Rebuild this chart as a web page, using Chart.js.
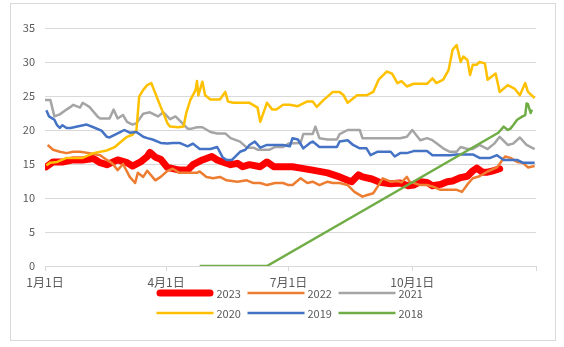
<!DOCTYPE html>
<html>
<head>
<meta charset="utf-8">
<script src="https://cdn.jsdelivr.net/npm/chart.js@4/dist/chart.umd.min.js"></script>
<style>
  html, body { margin: 0; padding: 0; background: #fff; }
  #frame { position: absolute; left: 10px; top: 3px; width: 544px; height: 336px; border: 1px solid #d9d9d9; background: #fff; }
  canvas { display: block; }
</style>
</head>
<body>
<div id="frame"><canvas id="c" width="544" height="336"></canvas></div>
<script>
// Series names, colours and line widths
const seriesNames  = ['2023', '2022', '2021', '2020', '2019', '2018'];
const seriesColors = ['#FF0000', '#ED7D31', '#A5A5A5', '#FFC000', '#4472C4', '#70AD47'];
const seriesWidths = [7, 2.5, 2.5, 2.5, 2.5, 2.5];

// X axis: day of year, ticks at the start of each quarter
const tickDays   = [0, 90, 181, 273, 365];
const tickLabels = ['1月1日', '4月1日', '7月1日', '10月1日', ''];

// Y axis range
const yMin = 0, yMax = 35, yStep = 5;

// 2023
const days2023 = [1,6,13,21,28,36,41,46,54,61,65,71,76,78,82,86,91,100,106,110,117,124,128,132,138,143,147,152,160,165,170,177,184,190,199,210,219,225,228,233,236,243,249,257,264,270,274,279,284,288,294,299,303,309,314,318,321,325,329,333,338];
const vals2023 = [14.6,15.3,15.3,15.6,15.6,15.8,15.2,14.9,15.6,15.2,14.7,15.3,16.1,16.7,16.0,15.7,14.5,14.1,14.1,14.9,15.6,16.1,15.6,15.3,14.9,15.1,14.6,14.9,14.6,15.3,14.6,14.6,14.6,14.4,14.1,13.7,13.1,12.6,12.4,13.4,13.1,12.8,12.3,12.1,12.2,11.8,11.9,12.4,12.3,11.8,12.0,12.4,12.5,13.0,13.2,14.0,14.4,13.8,13.8,14.0,14.3];

// 2022
const days2022 = [2,6,11,16,21,26,33,41,46,50,54,58,63,67,69,73,76,82,86,91,95,100,106,113,115,120,125,130,135,143,150,155,160,165,171,177,181,184,190,195,199,204,210,214,219,225,230,236,239,244,248,251,257,262,265,269,271,279,284,288,294,301,306,310,314,318,323,329,336,340,342,346,351,355,359,364];
const vals2022 = [17.8,17.1,16.8,16.6,16.8,16.8,16.6,16.3,15.6,15.1,14.1,15.0,13.1,12.2,13.7,13.1,14.0,12.6,13.1,14.0,14.3,13.7,13.7,13.7,13.9,13.1,12.9,13.1,12.6,12.4,12.6,12.2,12.2,11.9,12.2,12.2,11.9,11.9,12.9,12.2,12.4,11.9,12.4,12.2,12.2,11.9,10.9,10.2,10.4,10.7,11.9,12.9,12.4,12.5,12.3,13.1,12.4,11.9,11.9,11.7,11.2,11.2,11.2,10.9,12.0,12.9,13.2,13.9,14.5,15.6,16.1,15.9,15.3,15.2,14.5,14.7];

// 2021
const days2021 = [0,4,7,11,16,19,21,26,28,33,39,41,48,51,54,58,61,65,68,73,78,84,88,93,97,102,106,109,113,117,123,128,134,138,145,150,155,158,167,171,177,181,190,192,199,201,204,210,217,219,225,234,236,242,249,257,264,269,273,279,284,288,296,301,306,309,314,318,323,329,334,338,344,348,353,358,364];
const vals2021 = [24.4,24.4,22.0,22.3,23.0,23.4,23.7,23.3,24.0,23.4,22.0,21.7,21.7,23.0,21.7,22.2,21.2,20.8,21.0,22.4,22.6,22.0,22.6,21.6,22.0,21.0,20.2,20.2,20.4,20.4,19.7,19.5,19.5,18.8,18.3,17.4,17.4,17.1,17.1,17.5,17.5,18.0,18.1,19.4,19.4,20.5,18.8,18.6,18.6,19.4,20.0,20.0,18.8,18.8,18.8,18.8,18.8,19.0,20.0,18.5,18.8,18.5,17.3,16.8,16.8,17.5,17.2,17.2,17.8,17.2,18.0,19.0,17.8,18.0,18.9,17.8,17.2];

// 2020
const days2020 = [1,4,9,16,28,36,46,52,56,61,65,68,70,73,76,79,82,86,89,91,93,99,103,105,108,112,113,114,117,119,123,130,134,136,140,152,158,160,165,169,172,177,182,188,195,199,202,207,214,219,222,225,232,239,244,248,254,258,262,265,269,274,284,288,291,296,300,303,306,309,311,314,316,318,321,323,327,329,335,338,344,349,353,357,359,364];
const vals2020 = [14.8,15.2,15.3,15.9,15.9,16.6,17.0,17.5,18.2,19.0,19.3,20.0,24.9,25.9,26.6,26.9,25.4,23.4,22.0,21.0,20.5,20.4,20.5,22.5,24.4,25.9,27.2,25.1,27.1,25.1,24.5,24.5,25.6,24.2,24.0,24.0,23.3,21.2,24.0,23.0,23.0,23.7,23.7,23.5,24.2,24.2,23.4,24.4,25.6,25.6,25.1,24.0,25.1,25.1,25.6,27.4,28.6,28.3,26.9,27.2,26.4,26.8,26.8,27.6,26.9,27.4,28.8,31.8,32.5,30.0,30.8,30.3,28.1,29.6,29.6,30.0,29.8,27.4,28.3,25.6,26.6,26.1,25.1,26.9,25.6,24.7];

// 2019
const days2019 = [1,3,7,9,11,13,16,19,24,31,36,42,46,48,54,59,63,68,73,76,80,86,91,95,100,106,110,115,123,128,132,135,139,145,149,152,156,160,165,172,177,182,184,188,192,197,199,204,210,217,219,225,229,234,239,242,247,257,260,264,269,274,284,288,301,306,318,323,331,336,341,351,355,364];
const vals2019 = [22.9,22.0,21.5,20.7,20.3,20.7,20.3,20.3,20.5,20.8,20.4,19.9,19.0,18.9,19.5,20.0,19.6,19.7,19.0,18.8,18.6,18.1,18.0,18.1,18.1,17.6,18.0,17.2,17.2,17.5,16.0,15.6,15.6,16.8,17.1,17.8,18.3,17.4,17.8,17.8,17.8,17.6,18.8,18.6,17.3,18.1,18.3,17.5,17.5,17.5,18.3,18.5,17.8,17.3,17.3,16.3,16.8,16.8,16.1,16.6,16.6,16.9,16.9,16.3,16.3,16.4,16.4,15.9,15.9,16.3,15.6,15.6,15.2,15.2];

// 2018
const days2018 = [115,165,337,341,344,346,348,351,355,357,358,359,361,362];
const vals2018 = [0,0,19.6,20.5,20.0,20.2,20.7,21.5,22.0,22.2,23.9,23.8,22.5,23.0];

const seriesDays = [days2023, days2022, days2021, days2020, days2019, days2018];
const seriesVals = [vals2023, vals2022, vals2021, vals2020, vals2019, vals2018];

const FONT = "'Noto Sans CJK JP', 'Noto Sans', sans-serif";
const TEXT = '#595959';
const GRID = '#d9d9d9';

const datasets = seriesNames.map((name, i) => ({
  label: name,
  data: seriesDays[i].map((d, j) => ({ x: d, y: seriesVals[i][j] })),
  borderColor: seriesColors[i],
  backgroundColor: seriesColors[i],
  borderWidth: seriesWidths[i],
  borderJoinStyle: 'round',
  borderCapStyle: seriesWidths[i] > 4 ? 'round' : 'butt',
  pointRadius: 0,
  tension: 0,
  fill: false,
  // later years are drawn underneath, 2018 on top
  order: seriesNames.length - i
}));

// Two-row legend with line samples, centred under the plot
const lineLegend = {
  id: 'lineLegend',
  afterDraw(chart) {
    const { ctx, chartArea } = chart;
    const mid = (chartArea.left + chartArea.right) / 2;
    const colW = 91, rowH = 20, lineLen = 57;
    const x0 = mid - 134, y0 = chartArea.bottom + 27;
    ctx.save();
    ctx.font = '11px ' + FONT;
    ctx.textBaseline = 'middle';
    ctx.textAlign = 'left';
    chart.data.datasets.forEach((ds, i) => {
      const x = x0 + (i % 3) * colW;
      const y = y0 + Math.floor(i / 3) * rowH;
      const round = ds.borderCapStyle === 'round';
      const inset = round ? ds.borderWidth / 2 : 0;
      ctx.beginPath();
      ctx.strokeStyle = ds.borderColor;
      ctx.lineWidth = ds.borderWidth;
      ctx.lineCap = round ? 'round' : 'butt';
      ctx.moveTo(x + inset, y);
      ctx.lineTo(x + lineLen - inset, y);
      ctx.stroke();
      ctx.fillStyle = TEXT;
      ctx.fillText(ds.label, x + lineLen + 3, y + 0.5);
    });
    ctx.restore();
  }
};

new Chart(document.getElementById('c'), {
  type: 'line',
  data: { datasets },
  options: {
    responsive: false,
    animation: false,
    devicePixelRatio: 1,
    layout: { padding: { left: 0, right: 19, top: 24, bottom: 44 } },
    plugins: {
      legend: { display: false },
      tooltip: { enabled: false }
    },
    scales: {
      x: {
        type: 'linear',
        min: tickDays[0],
        max: tickDays[tickDays.length - 1],
        afterBuildTicks: (s) => { s.ticks = tickDays.map(v => ({ value: v })); },
        afterFit: (s) => { s.height = 30; },
        ticks: {
          autoSkip: false,
          maxRotation: 0,
          padding: 4,
          color: TEXT,
          font: { family: FONT, size: 12 },
          callback: (v) => { const k = tickDays.indexOf(v); return k >= 0 ? tickLabels[k] : ''; }
        },
        grid: { drawOnChartArea: false, drawTicks: true, tickLength: 5, color: GRID },
        border: { display: true, color: GRID }
      },
      y: {
        min: yMin,
        max: yMax,
        afterFit: (s) => { s.width = 34; },
        ticks: { stepSize: yStep, padding: 10, color: TEXT, font: { family: FONT, size: 11 } },
        grid: { color: GRID, drawTicks: false },
        border: { display: false }
      }
    }
  },
  plugins: [lineLegend]
});
</script>
</body>
</html>
